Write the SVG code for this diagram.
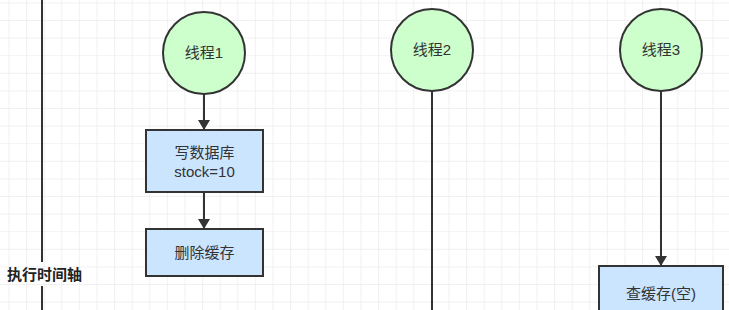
<svg xmlns="http://www.w3.org/2000/svg" width="729" height="310" viewBox="0 0 729 310">
<defs>
<pattern id="grid" x="8.5" y="2.4" width="17.6" height="17.6" patternUnits="userSpaceOnUse">
<path d="M0 0H17.6M0 0V17.6" fill="none" stroke="#e4e4e4" stroke-width="1"/>
</pattern>
<marker id="arr" viewBox="0 0 10 12" refX="10" refY="6" markerWidth="10" markerHeight="12" markerUnits="userSpaceOnUse" orient="auto">
<path d="M0 0L10 6L0 12z" fill="#333"/>
</marker>
<style>
.circ{fill:#ccffcc;stroke:#333;stroke-width:2}
.box{fill:#cce5ff;stroke:#333;stroke-width:2}
.t{font-family:"Liberation Sans","Noto Sans CJK SC",sans-serif;font-size:15px;fill:#333;text-anchor:middle}
.lbl{font-family:"Liberation Sans","Noto Sans CJK SC",sans-serif;font-size:15px;font-weight:bold;fill:#222}
.ln{stroke:#333;stroke-width:2;fill:none}
</style>
</defs>
<rect width="729" height="310" fill="#fff"/>
<rect width="729" height="310" fill="url(#grid)"/>
<g id="axis">
<line class="ln" x1="42" y1="0" x2="42" y2="262"/>
<line class="ln" x1="42" y1="286" x2="42" y2="310"/>
<text class="lbl" x="7" y="280">执行时间轴</text>
</g>
<g id="connectors">
<line class="ln" x1="204" y1="94" x2="204" y2="130" marker-end="url(#arr)"/>
<line class="ln" x1="204" y1="192" x2="204" y2="229" marker-end="url(#arr)"/>
<line class="ln" x1="432" y1="91" x2="432" y2="310"/>
<line class="ln" x1="661" y1="91" x2="661" y2="266" marker-end="url(#arr)"/>
</g>
<g id="thread1">
<circle class="circ" cx="204" cy="53" r="41"/>
<text class="t" x="204" y="58">线程1</text>
</g>
<g id="thread2">
<circle class="circ" cx="432" cy="50" r="41"/>
<text class="t" x="432" y="55">线程2</text>
</g>
<g id="thread3">
<circle class="circ" cx="661" cy="50" r="41"/>
<text class="t" x="661" y="55">线程3</text>
</g>
<g id="write-db">
<rect class="box" x="146" y="130" width="117" height="62"/>
<text class="t" x="204.5" y="158">写数据库</text>
<text class="t" x="204.5" y="177">stock=10</text>
</g>
<g id="del-cache">
<rect class="box" x="146" y="229" width="117" height="47"/>
<text class="t" x="204.5" y="258">删除缓存</text>
</g>
<g id="query-cache">
<rect class="box" x="599" y="266" width="124" height="60"/>
<text class="t" x="661" y="299">查缓存(空)</text>
</g>
</svg>
